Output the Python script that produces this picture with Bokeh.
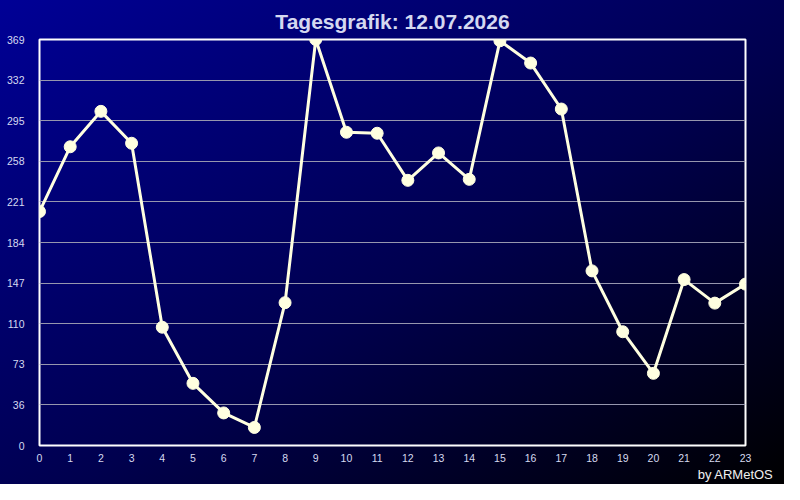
from bokeh.plotting import figure
from bokeh.models import FixedTicker, Title
from bokeh.embed import file_html
from bokeh.resources import INLINE

# Data (hours 0..23)
hours = list(range(24))
values = [212.6, 271.5, 303.7, 274.7, 107.5, 56.5, 29.6, 16.4, 129.8, 369.0,
          284.7, 283.8, 241.0, 265.9, 241.9, 367.8, 347.6, 305.8, 158.7, 103.4,
          65.6, 150.8, 129.4, 146.7]

y_ticks = [0, 36.9, 73.8, 110.7, 147.6, 184.5, 221.4, 258.3, 295.2, 332.1, 369.0]
y_tick_labels = ["0", "36", "73", "110", "147", "184", "221", "258", "295", "332", "369"]
x_ticks = list(range(24))
x_tick_labels = [str(h) for h in x_ticks]

title_text = "Tagesgrafik: 12.07.2026"
credit_text = "by ARMetOS"

FONT = "Liberation Sans"
LABEL_COLOR = "#D6DAF0"

p = figure(width=784, height=484, output_backend="svg", toolbar_location=None,
           x_range=(0, 23), y_range=(0, 369),
           min_border_left=39, min_border_right=39, min_border_top=39,
           min_border_bottom=39)
p.styles = {"background": "linear-gradient(to bottom right, #000096 0%, #00004e 55%, #000000 100%)"}
p.border_fill_color = None
p.background_fill_color = None
p.outline_line_color = "#FFFFFF"
p.outline_line_width = 2

p.title.text = title_text
p.title.align = "center"
p.title.text_font = FONT
p.title.text_font_size = "21px"
p.title.text_font_style = "bold"
p.title.text_color = "#D4D8F0"
p.title.offset = 0
p.title.standoff = 13

p.xaxis.ticker = FixedTicker(ticks=x_ticks)
p.xaxis.major_label_overrides = dict(zip(x_ticks, x_tick_labels))
p.yaxis.ticker = FixedTicker(ticks=y_ticks)
p.yaxis.major_label_overrides = dict(zip(y_ticks, y_tick_labels))

for ax in (p.xaxis[0], p.yaxis[0]):
    ax.axis_line_color = None
    ax.major_tick_line_color = None
    ax.minor_tick_line_color = None
    ax.major_tick_out = 0
    ax.major_tick_in = 0
    ax.major_label_text_font = FONT
    ax.major_label_text_font_size = "10.5px"
    ax.major_label_text_color = LABEL_COLOR
p.yaxis.major_label_standoff = 15
p.xaxis.major_label_standoff = 8

p.xgrid.grid_line_color = None
p.ygrid.ticker = FixedTicker(ticks=y_ticks)
p.ygrid.grid_line_color = "#9696AE"
p.ygrid.grid_line_width = 1

p.line(hours, values, line_color="#FFFFE0", line_width=3)
p.scatter(hours, values, size=12, fill_color="#FFFFE0", line_color="#FFFFE0")

credit = Title(text=credit_text, align="right", offset=-28, standoff=0,
               text_font=FONT, text_font_size="13px", text_font_style="normal",
               text_color="#F0F0F0")
p.add_layout(credit, "below")

open("out.html", "w").write(file_html(p, INLINE))
